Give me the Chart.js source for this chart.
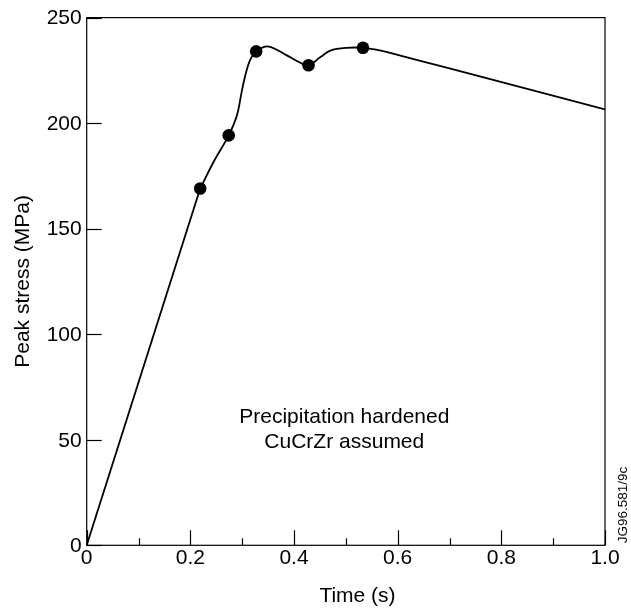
<!DOCTYPE html>
<html>
<head>
<meta charset="utf-8">
<script src="https://cdn.jsdelivr.net/npm/chart.js@4.4.1/dist/chart.umd.min.js"></script>
<style>
  html, body { margin: 0; padding: 0; background: #fff; }
  #wrap { width: 631px; height: 608px; }
</style>
</head>
<body>
<div id="wrap"><canvas id="c" width="631" height="608"></canvas></div>
<script>
// Curve (time in s, peak stress in MPa)
// Straight initial rise
const riseTime   = [0, 0.219];
const riseStress = [0, 169.0];
// Smooth part after the first marked point
const curveTime   = [0.219, 0.245, 0.274, 0.290, 0.299, 0.306, 0.315, 0.327, 0.351, 0.386, 0.412, 0.428, 0.451, 0.470, 0.502, 0.533, 0.556, 0.580, 0.700, 0.850, 1.0];
const curveStress = [169.0, 181.7, 194.2, 203.8, 214.8, 222.6, 229.7, 234.0, 236.3, 232.1, 228.6, 227.4, 231.3, 234.4, 235.7, 235.7, 234.9, 233.6, 225.9, 216.2, 206.5];
// Marked points
const markerTime   = [0.219, 0.274, 0.327, 0.428, 0.533];
const markerStress = [169.0, 194.2, 234.0, 227.4, 235.7];
// Ticks
const xTickValues = [0, 0.1, 0.2, 0.3, 0.4, 0.5, 0.6, 0.7, 0.8, 0.9, 1.0];
const xTickLabels = ['0', '', '0.2', '', '0.4', '', '0.6', '', '0.8', '', '1.0'];
const yTickValues = [0, 50, 100, 150, 200, 250];
const yTickLabels = ['0', '50', '100', '150', '200', '250'];
const xTitle = 'Time (s)';
const yTitle = 'Peak stress (MPa)';
const noteLines = ['Precipitation hardened', 'CuCrZr assumed'];
const refLabel = 'JG96.581/9c';

const FONT = '"Liberation Sans", Arial, Helvetica, sans-serif';
Chart.defaults.font.family = FONT;
Chart.defaults.font.size = 21;
Chart.defaults.color = '#000';

const decorPlugin = {
  id: 'decor',
  afterDraw(chart) {
    const ctx = chart.ctx;
    const xs = chart.scales.x, ys = chart.scales.y;
    const a = chart.chartArea;
    ctx.save();
    ctx.strokeStyle = '#000';
    ctx.lineWidth = 1.2;
    ctx.strokeRect(a.left, a.top, a.right - a.left, a.bottom - a.top);
    xTickValues.forEach((v, i) => {
      const px = Math.round(xs.getPixelForValue(v)) + 0.5;
      const len = (i % 2 === 0) ? 15 : 7;
      ctx.beginPath();
      ctx.moveTo(px, a.bottom);
      ctx.lineTo(px, a.bottom - len);
      ctx.stroke();
    });
    yTickValues.forEach(v => {
      const py = Math.round(ys.getPixelForValue(v)) + 0.5;
      ctx.beginPath();
      ctx.moveTo(a.left, py);
      ctx.lineTo(a.left + 15, py);
      ctx.stroke();
    });
    ctx.fillStyle = '#000';
    ctx.font = '21px ' + FONT;
    ctx.textAlign = 'center';
    ctx.textBaseline = 'middle';
    ctx.fillText(xTitle, 357.5, 596);
    ctx.fillText(noteLines[0], xs.getPixelForValue(0.497), ys.getPixelForValue(60.5));
    ctx.fillText(noteLines[1], xs.getPixelForValue(0.497), ys.getPixelForValue(48.7));
    ctx.font = '13.5px ' + FONT;
    ctx.translate(623, a.bottom - 2);
    ctx.rotate(-Math.PI / 2);
    ctx.textAlign = 'left';
    ctx.fillText(refLabel, 0, 0);
    ctx.restore();
  }
};

new Chart(document.getElementById('c'), {
  type: 'scatter',
  data: {
    datasets: [
      {
        label: 'markers',
        data: markerTime.map((t, i) => ({ x: t, y: markerStress[i] })),
        showLine: false,
        pointRadius: 6.3,
        pointBackgroundColor: '#000',
        pointBorderColor: '#000',
        pointBorderWidth: 0,
        order: 0
      },
      {
        label: 'rise',
        data: riseTime.map((t, i) => ({ x: t, y: riseStress[i] })),
        showLine: true,
        borderColor: '#000',
        borderWidth: 1.8,
        pointRadius: 0,
        tension: 0,
        fill: false,
        order: 1
      },
      {
        label: 'curve',
        data: curveTime.map((t, i) => ({ x: t, y: curveStress[i] })),
        showLine: true,
        borderColor: '#000',
        borderWidth: 1.8,
        pointRadius: 0,
        tension: 0.35,
        fill: false,
        order: 1
      }
    ]
  },
  options: {
    responsive: false,
    animation: false,
    devicePixelRatio: 1,
    layout: { padding: { top: 15, right: 26, left: 0, bottom: 0 } },
    plugins: { legend: { display: false }, tooltip: { enabled: false } },
    scales: {
      x: {
        type: 'linear',
        min: 0, max: 1.0,
        afterBuildTicks: s => { s.ticks = xTickValues.map(v => ({ value: v })); },
        afterFit: s => { s.height = 62.7; },
        grid: { display: false, drawTicks: false },
        border: { display: false },
        ticks: {
          autoSkip: false,
          maxRotation: 0,
          padding: 0,
          callback: (v, i) => xTickLabels[i]
        },
        title: { display: false }
      },
      y: {
        type: 'linear',
        min: 0, max: 250,
        afterBuildTicks: s => { s.ticks = yTickValues.map(v => ({ value: v })); },
        afterFit: s => { s.width = 86.7; },
        grid: { display: false, drawTicks: false },
        border: { display: false },
        ticks: {
          padding: 5,
          labelOffset: 1,
          callback: (v, i) => yTickLabels[i]
        },
        title: { display: true, text: yTitle, padding: { top: 11, bottom: 0 } }
      }
    }
  },
  plugins: [decorPlugin]
});
</script>
</body>
</html>
